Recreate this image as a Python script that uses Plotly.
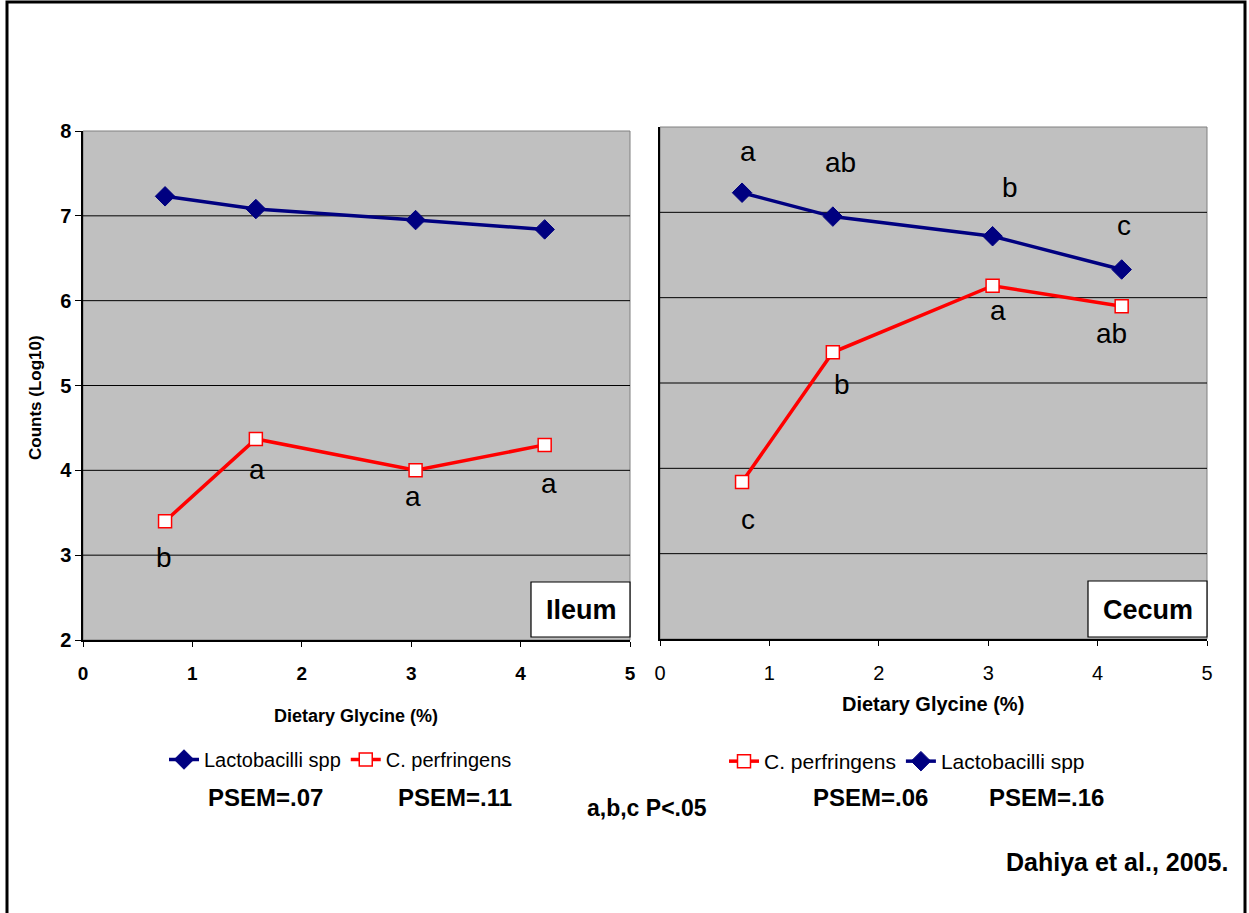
import plotly.graph_objects as go

# ---------------- data ----------------
glycine = [0.75, 1.58, 3.04, 4.22]
ileum_lacto = [7.23, 7.08, 6.95, 6.84]
ileum_cperf = [3.40, 4.37, 4.00, 4.30]
cecum_lacto = [7.23, 6.95, 6.72, 6.33]
cecum_cperf = [3.84, 5.36, 6.14, 5.90]

ileum_cperf_letters = ["b", "a", "a", "a"]
ileum_cperf_letter_x = [0.74, 1.59, 3.02, 4.26]
ileum_cperf_letter_y = [2.94, 3.98, 3.66, 3.81]

cecum_lacto_letters = ["a", "ab", "b", "c"]
cecum_lacto_letter_x = [0.80, 1.65, 3.20, 4.24]
cecum_lacto_letter_y = [7.68, 7.55, 7.26, 6.81]

cecum_cperf_letters = ["c", "b", "a", "ab"]
cecum_cperf_letter_x = [0.80, 1.66, 3.09, 4.13]
cecum_cperf_letter_y = [3.36, 4.95, 5.82, 5.55]

x_ticks = [0, 1, 2, 3, 4, 5]
x_tick_labels = ["0", "1", "2", "3", "4", "5"]
y_ticks = [2, 3, 4, 5, 6, 7, 8]
y_tick_labels = ["2", "3", "4", "5", "6", "7", "8"]
grid_values = [3, 4, 5, 6, 7]

NAVY = "#000080"
RED = "#ff0000"
W, H = 1249, 913


def px(x):
    return x / W


def py(y):
    return 1 - y / H


fig = go.Figure()

lacto_style = dict(mode="lines+markers", line=dict(color=NAVY, width=3.5),
                   marker=dict(symbol="diamond", size=15, color=NAVY, line=dict(color=NAVY, width=1)))
cperf_style = dict(mode="lines+markers", line=dict(color=RED, width=3.5),
                   marker=dict(symbol="square", size=13, color="white", line=dict(color=RED, width=1.5)))

fig.add_trace(go.Scatter(x=glycine, y=ileum_lacto, name="Lactobacilli spp", xaxis="x", yaxis="y",
                         legend="legend", **lacto_style))
fig.add_trace(go.Scatter(x=glycine, y=ileum_cperf, name="C. perfringens", xaxis="x", yaxis="y",
                         legend="legend", **cperf_style))
fig.add_trace(go.Scatter(x=glycine, y=cecum_cperf, name="C. perfringens", xaxis="x2", yaxis="y2",
                         legend="legend2", **cperf_style))
fig.add_trace(go.Scatter(x=glycine, y=cecum_lacto, name="Lactobacilli spp", xaxis="x2", yaxis="y2",
                         legend="legend2", **lacto_style))

xaxis_common = dict(range=[0, 5], tickvals=x_ticks, ticks="outside", ticklen=5, tickcolor="black",
                    showline=True, linecolor="black", linewidth=1.5, showgrid=False, zeroline=False,
                    ticklabelstandoff=10, fixedrange=True, automargin=False)
yaxis_common = dict(range=[2, 8], tickvals=y_ticks, showline=True, linecolor="black", linewidth=1.5,
                    showgrid=False, zeroline=False, fixedrange=True, automargin=False)

fig.update_layout(
    width=W, height=H,
    autosize=False,
    margin=dict(l=0, r=0, t=0, b=0, pad=0, autoexpand=False),
    paper_bgcolor="white",
    plot_bgcolor="#c0c0c0",
    font=dict(family="Arial", color="black"),
    xaxis=dict(domain=[px(83), px(630)], anchor="y",
               ticktext=[f"<b>{t}</b>" for t in x_tick_labels],
               tickfont=dict(size=19, family="Arial", color="black"), **xaxis_common),
    yaxis=dict(domain=[py(640), py(131)], anchor="x", ticks="outside", ticklen=6, tickcolor="black",
               ticktext=[f"<b>{t}</b>" for t in y_tick_labels],
               tickfont=dict(size=20, family="Arial", color="black"), **yaxis_common),
    xaxis2=dict(domain=[px(660), px(1207)], anchor="y2", ticktext=x_tick_labels,
                tickfont=dict(size=20, family="Arial", color="black"), **xaxis_common),
    yaxis2=dict(domain=[py(639), py(127)], anchor="x2", ticks="", showticklabels=False, **yaxis_common),
    legend=dict(x=px(164), y=py(740), xanchor="left", yanchor="top", orientation="h",
                bgcolor="rgba(0,0,0,0)", font=dict(size=20, family="Arial", color="black"),
                traceorder="normal", itemwidth=30, tracegroupgap=0),
    legend2=dict(x=px(724), y=py(741), xanchor="left", yanchor="top", orientation="h",
                 bgcolor="rgba(0,0,0,0)", font=dict(size=21, family="Arial", color="black"),
                 traceorder="normal", itemwidth=30, tracegroupgap=0),
)

shapes = []
# plot-area frames and gridlines
for xr, yr in (("x", "y"), ("x2", "y2")):
    shapes.append(dict(type="rect", xref=f"{xr} domain", yref=f"{yr} domain", x0=0, x1=1, y0=0, y1=1,
                       line=dict(color="#808080", width=1), layer="below"))
    for g in grid_values:
        shapes.append(dict(type="line", xref=f"{xr} domain", yref=yr, x0=0, x1=1, y0=g, y1=g,
                           line=dict(color="black", width=1), layer="below"))
# outer frame
shapes.append(dict(type="rect", xref="paper", yref="paper", x0=px(7), x1=px(1245), y0=-0.05, y1=py(2),
                   line=dict(color="black", width=3)))
# Ileum / Cecum boxes
shapes.append(dict(type="rect", xref="paper", yref="paper", x0=px(531), x1=px(630), y0=py(637), y1=py(582),
                   fillcolor="white", line=dict(color="black", width=1.2), layer="above"))
shapes.append(dict(type="rect", xref="paper", yref="paper", x0=px(1088), x1=px(1207), y0=py(637), y1=py(581),
                   fillcolor="white", line=dict(color="black", width=1.2), layer="above"))
fig.update_layout(shapes=shapes)

ann = []


def letters(labels, xs, ys, xr, yr):
    for t, xv, yv in zip(labels, xs, ys):
        ann.append(dict(text=t, x=xv, y=yv, xref=xr, yref=yr, showarrow=False, yshift=3,
                        font=dict(size=28, family="Arial", color="black")))


letters(ileum_cperf_letters, ileum_cperf_letter_x, ileum_cperf_letter_y, "x", "y")
letters(cecum_lacto_letters, cecum_lacto_letter_x, cecum_lacto_letter_y, "x2", "y2")
letters(cecum_cperf_letters, cecum_cperf_letter_x, cecum_cperf_letter_y, "x2", "y2")


def ptext(text, x, y, size, bold=True, **kw):
    t = f"<b>{text}</b>" if bold else text
    ann.append(dict(text=t, x=px(x), y=py(y), xref="paper", yref="paper", showarrow=False,
                    xanchor="center", yanchor="middle",
                    font=dict(size=size, family="Arial", color="black"), **kw))


ptext("Ileum", 581, 610, 27)
ptext("Cecum", 1148, 610, 27)
ptext("Dietary Glycine (%)", 356, 716, 18)
ptext("Dietary Glycine (%)", 933, 704, 20)
ptext("Counts (Log10)", 35, 398, 17, textangle=-90)
ptext("PSEM=.07", 265, 797, 24)
ptext("PSEM=.11", 455, 797, 24)
ptext("a,b,c P<.05", 647, 808, 23)
ptext("PSEM=.06", 870, 797, 24)
ptext("PSEM=.16", 1046, 797, 24)
ptext("Dahiya et al., 2005.", 1117, 862, 25)
fig.update_layout(annotations=ann)

fig.write_html("out.html", config={"displayModeBar": False},
               post_script="document.body.style.margin='0';document.body.style.overflow='hidden';")
